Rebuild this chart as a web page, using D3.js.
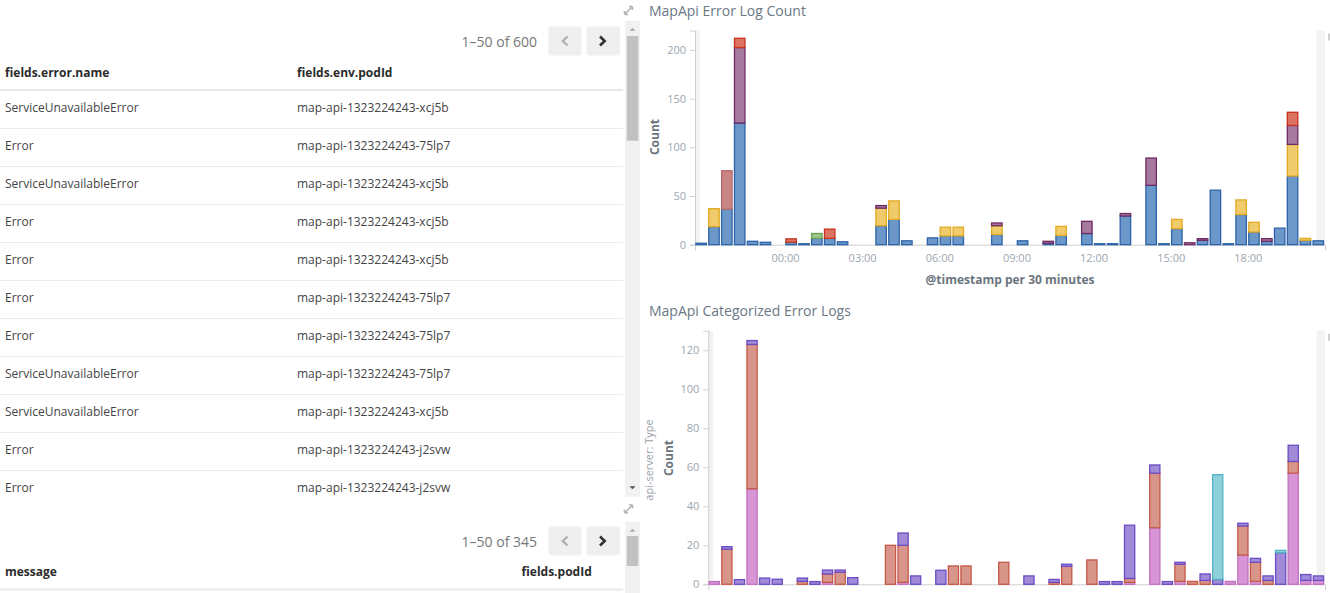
<!DOCTYPE html>
<html><head><meta charset="utf-8">
<script src="https://cdn.jsdelivr.net/npm/d3@7"></script>
<style>
html,body{margin:0;padding:0;background:#fff;overflow:hidden}
svg{display:block;font-family:"Open Sans",sans-serif}
</style></head><body>
<svg id="c" width="1330" height="593"></svg>
<script>
// ---------- DATA ----------
const timeBins = [
 "20:30","21:00","21:30","22:00","22:30","23:00","23:30",
 "00:00","00:30","01:00","01:30","02:00","02:30",
 "03:00","03:30","04:00","04:30","05:00","05:30",
 "06:00","06:30","07:00","07:30","08:00","08:30",
 "09:00","09:30","10:00","10:30","11:00","11:30",
 "12:00","12:30","13:00","13:30","14:00","14:30",
 "15:00","15:30","16:00","16:30","17:00","17:30",
 "18:00","18:30","19:00","19:30","20:00","20:30"];
const xTickLabels = ["00:00","03:00","06:00","09:00","12:00","15:00","18:00"];
const topYTicks = [0,50,100,150,200];
const bottomYTicks = [0,20,40,60,80,100,120];

// MapApi Error Log Count (stacked, bottom -> top)
const topBlue = [
 1.5,18.5,36.5,125,3.5,2.5,0,
 2.5,1,6.5,6.5,3,0,
 0,19.5,26,4,0,7,
 9,9,0,0,10.5,0,
 4,0,1.5,9.5,0,11.5,
 1,1,29.5,0,61,1,
 16.5,0,4.5,56,1,31,
 13,3.5,17,70.5,4.5,4];
const topGreen = [
 0,0,0,0,0,0,0,
 0,0,5,0,0,0,
 0,0,0,0,0,0,
 0,0,0,0,0,0,
 0,0,0,0,0,0,
 0,0,0,0,0,0,
 0,0,0,0,0,0,
 0,0,0,0,0,0];
const topYellow = [
 0,18.5,0,0,0,0,0,
 0,0,0,0,0,0,
 0,18,19,0,0,0,
 9,9,0,0,9,0,
 0,0,0,9.3,0,0,
 0,0,0,0,0,0,
 9.5,0,0,0,0,15,
 10,0,0,32.5,2,0];
const topDustyRed = [
 0,0,39.5,0,0,0,0,
 0,0,0,0,0,0,
 0,0,0,0,0,0,
 0,0,0,0,0,0,
 0,0,0,0,0,0,
 0,0,0,0,0,0,
 0,0,0,0,0,0,
 0,0,0,0,0,0];
const topMauve = [
 0,0,0,77.5,0,0,0,
 0,0,0,0,0,0,
 0,2.7,0,0,0,0,
 0,0,0,0,2.8,0,
 0,0,2,0,0,12.5,
 0,0,2.5,0,28,0,
 0,2,1.7,0,0,0,
 0,2.7,0,19.5,0,0];
const topRed = [
 0,0,0,9.5,0,0,0,
 3.5,0,0,9.5,0,0,
 0,0,0,0,0,0,
 0,0,0,0,0,0,
 0,0,0,0,0,0,
 0,0,0,0,0,0,
 0,0,0,0,0,0,
 0,0,0,13.5,0,0];

// MapApi Categorized Error Logs (stacked, bottom -> top)
const catPink = [
 1.4,0,0,49,0,0,0,
 0,0,1,0,0,0,
 0,0,1,0,0,0,
 0,0,0,0,0,0,
 0,0,0,0,0,0,
 0,0,1,0,29,0,
 1.5,0,0,0,1.5,15,
 1.5,0,0,57,2,2];
const catSalmon = [
 0,18,0,74,0,0,0,
 1.5,0,4.3,6.2,0,0,
 0,20,19,0,0,0,
 9.4,9.4,0,0,11.3,0,
 0,0,1,9.2,0,12.5,
 0,0,2,0,28,0,
 8.8,1.5,2,0,0,14.9,
 9.8,2,0,6,0,0];
const catPurple = [
 0,1.3,2.4,2,3.2,2.6,0,
 1.7,1.4,2,1.1,3.4,0,
 0,0,6.3,4.3,0,7.2,
 0,0,0,0,0,0,
 4.3,0,1.5,1.1,0,0,
 1.4,1.4,27.3,0,4.2,1.4,
 1,0,3.3,2.5,0,1.4,
 2,2.3,16.2,8.3,3,2.3];
const catTeal = [
 0,0,0,0,0,0,0,
 0,0,0,0,0,0,
 0,0,0,0,0,0,
 0,0,0,0,0,0,
 0,0,0,0,0,0,
 0,0,0,0,0,0,
 0,0,0,53.7,0,0,
 0,0,1.2,0,0,0];

// tables
const table1Columns = ["fields.error.name","fields.env.podId"];
const table1ErrorNames = ["ServiceUnavailableError","Error","ServiceUnavailableError","Error","Error","Error","Error","ServiceUnavailableError","ServiceUnavailableError","Error","Error"];
const table1PodIds = ["map-api-1323224243-xcj5b","map-api-1323224243-75lp7","map-api-1323224243-xcj5b","map-api-1323224243-xcj5b","map-api-1323224243-xcj5b","map-api-1323224243-75lp7","map-api-1323224243-75lp7","map-api-1323224243-75lp7","map-api-1323224243-xcj5b","map-api-1323224243-j2svw","map-api-1323224243-j2svw"];
const table1Paging = "1–50 of 600";
const table2Columns = ["message","fields.podId"];
const table2Paging = "1–50 of 345";

// ---------- DRAW ----------
const svg = d3.select("#c");
const binMs = 30*60*1000;
function parseBins(labels){
  let day=0, prev=-1;
  return labels.map(s=>{const [h,m]=s.split(":").map(Number); const mins=h*60+m; if(mins<prev) day++; prev=mins; return new Date(Date.UTC(2017,0,1+day,h,m));});
}
const binDates = parseBins(timeBins);
const domainStart = binDates[0];
const domainEnd = new Date(+binDates[binDates.length-1]+binMs);
const tickDates = xTickLabels.map(s=>{const [h,m]=s.split(":").map(Number); return new Date(Date.UTC(2017,0,2,h,m));});

const tickColor = "#9ca6b0", axisColor = "#cfcfcf";

function drawChart(cfg){
  const g = svg.append("g");
  const x = d3.scaleUtc().domain([domainStart,domainEnd]).range([cfg.x0,cfg.x1]);
  const y = d3.scaleLinear().domain([0,cfg.yMax]).range([cfg.y0,cfg.y1]);
  g.append("rect").attr("x",cfg.x0).attr("y",cfg.y1).attr("width",5).attr("height",cfg.y0-cfg.y1).attr("fill","#f3f3f3");
  g.append("rect").attr("x",cfg.x1-8.3).attr("y",cfg.y1).attr("width",8.3).attr("height",cfg.y0-cfg.y1).attr("fill","#f3f3f3");

  const ya = g.append("g").attr("transform",`translate(${cfg.x0},0)`)
    .call(d3.axisLeft(y).tickValues(cfg.yTicks).tickSizeInner(5).tickSizeOuter(5).tickPadding(4));
  const xAxis = d3.axisBottom(x).tickValues(cfg.showXLabels ? tickDates : []).tickFormat(d3.utcFormat("%H:%M"))
    .tickSizeInner(0).tickSizeOuter(6).tickPadding(10);
  const xa = g.append("g").attr("transform",`translate(0,${cfg.y0})`).call(xAxis);
  [ya,xa].forEach(a=>{
    a.attr("font-family",null).attr("font-size",null);
    a.selectAll("path,line").attr("stroke",axisColor);
    a.selectAll("text").attr("fill",tickColor).style("font-size","11px");
  });

  const rows = binDates.map((d,i)=>{const r={date:d}; cfg.series.forEach(s=>r[s.name]=s.values[i]); return r;});
  const stack = d3.stack().keys(cfg.series.map(s=>s.name))(rows);
  const bw = x(new Date(+domainStart+binMs)) - x(domainStart);
  stack.forEach((layer,li)=>{
    const s = cfg.series[li];
    g.append("g").selectAll("rect").data(layer.filter(d=>d[1]-d[0]>0)).join("rect")
      .attr("x",d=>x(d.data.date)+0.9).attr("width",bw-2.4)
      .attr("y",d=>y(d[1])).attr("height",d=>y(d[0])-y(d[1]))
      .attr("fill",s.fill).attr("stroke",s.stroke).attr("stroke-width",1.3);
  });

  g.append("text").attr("x",649).attr("y",cfg.titleY).attr("fill","#6b7886").style("font-size","14px").text(cfg.title);
  g.append("rect").attr("x",1328).attr("y",cfg.y1+3).attr("width",2).attr("height",7).attr("fill","#d0d0d0");
  return g;
}

const topChart = drawChart({
  x0:695, x1:1325, y0:244.7, y1:30.5, yMax:220, yTicks:topYTicks, showXLabels:true,
  title:"MapApi Error Log Count", titleY:16,
  series:[
    {name:"map-api-1323224243-xcj5b", values:topBlue, fill:"#6b98c9", stroke:"#2c63a9"},
    {name:"map-api-1323224243-gq7kt", values:topGreen, fill:"#9fc790", stroke:"#66a052"},
    {name:"map-api-1323224243-75lp7", values:topYellow, fill:"#f0cb6b", stroke:"#e3aa22"},
    {name:"map-api-1323224243-5b0xn", values:topDustyRed, fill:"#c98484", stroke:"#b86a6a"},
    {name:"map-api-1323224243-j2svw", values:topMauve, fill:"#a67a9f", stroke:"#6f2a66"},
    {name:"map-api-1323224243-r8m2d", values:topRed, fill:"#db7262", stroke:"#c8321e"}
  ]});
topChart.append("text").attr("transform","translate(659,137) rotate(-90)").attr("text-anchor","middle")
  .attr("fill","#6c757d").style("font-size","12px").style("font-weight","bold").text("Count");
topChart.append("text").attr("x",1010).attr("y",283.5).attr("text-anchor","middle")
  .attr("fill","#6c757d").style("font-size","12px").style("font-weight","bold").text("@timestamp per 30 minutes");

const bottomChart = drawChart({
  x0:708.3, x1:1325, y0:584.3, y1:330.8, yMax:130, yTicks:bottomYTicks, showXLabels:false,
  title:"MapApi Categorized Error Logs", titleY:316,
  series:[
    {name:"ServiceUnavailable", values:catPink, fill:"#d895d6", stroke:"#c271c0"},
    {name:"Timeout", values:catSalmon, fill:"#d8968b", stroke:"#c65848"},
    {name:"Internal", values:catPurple, fill:"#a18bd9", stroke:"#6a4cc4"},
    {name:"NotFound", values:catTeal, fill:"#8fd0da", stroke:"#50b4c3"}
  ]});
bottomChart.append("text").attr("transform","translate(653,460) rotate(-90)").attr("text-anchor","middle")
  .attr("fill","#9ba1a8").style("font-size","11px").text("api-server: Type");
bottomChart.append("text").attr("transform","translate(673,458) rotate(-90)").attr("text-anchor","middle")
  .attr("fill","#6c757d").style("font-size","12px").style("font-weight","bold").text("Count");

// ---------- TABLES ----------
const defs = svg.append("defs");
defs.append("clipPath").attr("id","clip1").append("rect").attr("x",0).attr("y",18).attr("width",624).attr("height",479);
defs.append("clipPath").attr("id","clip2").append("rect").attr("x",0).attr("y",500).attr("width",624).attr("height",93);

function pager(g, label, cy){
  g.append("text").attr("x",537).attr("y",cy+6).attr("text-anchor","end").attr("fill","#777").style("font-size","14px").text(label);
  g.append("rect").attr("x",548.5).attr("y",cy-14.5).attr("width",33).attr("height",29).attr("rx",3).attr("fill","#efefef");
  g.append("rect").attr("x",586.5).attr("y",cy-14.5).attr("width",33.5).attr("height",29).attr("rx",3).attr("fill","#efefef");
  g.append("path").attr("d",`M567.5,${cy-4.5}L562.8,${cy}L567.5,${cy+4.5}`).attr("fill","none").attr("stroke","#b0b0b0").attr("stroke-width",2.4);
  g.append("path").attr("d",`M600,${cy-4.5}L604.7,${cy}L600,${cy+4.5}`).attr("fill","none").attr("stroke","#333").attr("stroke-width",2.6);
}
function resizeIcon(g, x, y){
  g.append("path").attr("d",`M${x+1},${y+7} L${x+9},${y-1} M${x+1},${y+7} l0,-3.5 M${x+1},${y+7} l3.5,0 M${x+9},${y-1} l-3.5,0 M${x+9},${y-1} l0,3.5`)
    .attr("fill","none").attr("stroke","#b5b5b5").attr("stroke-width",1.6);
}
function scrollbar(g, y0, y1, thumb0, thumb1, downArrow){
  g.append("rect").attr("x",625).attr("y",y0).attr("width",15).attr("height",y1-y0).attr("fill","#f1f1f1");
  g.append("rect").attr("x",626.8).attr("y",thumb0).attr("width",11.5).attr("height",thumb1-thumb0).attr("fill","#c1c1c1");
  g.append("path").attr("d",`M629.5,${y0+10}L632.5,${y0+7}L635.5,${y0+10}Z`).attr("fill","#a8a8a8");
  if(downArrow) g.append("path").attr("d",`M629.5,${y1-10.5}L632.5,${y1-7.5}L635.5,${y1-10.5}Z`).attr("fill","#505050");
}

const t1 = svg.append("g");
resizeIcon(t1, 623.5, 7.5);
pager(t1, table1Paging, 41);
scrollbar(t1, 20.7, 496.7, 36, 140.7, true);
const t1c = t1.append("g").attr("clip-path","url(#clip1)");
t1c.append("text").attr("x",5).attr("y",77).attr("fill","#2b2b2b").style("font-size","12px").style("font-weight","bold").text(table1Columns[0]);
t1c.append("text").attr("x",297).attr("y",77).attr("fill","#2b2b2b").style("font-size","12px").style("font-weight","bold").text(table1Columns[1]);
t1c.append("rect").attr("x",0).attr("y",89).attr("width",623).attr("height",2).attr("fill","#e8e8e8");
table1ErrorNames.forEach((n,i)=>{
  const base = 112 + 38*i;
  t1c.append("text").attr("x",5).attr("y",base).attr("fill","#444").style("font-size","12px").text(n);
  t1c.append("text").attr("x",297).attr("y",base).attr("fill","#444").style("font-size","12px").text(table1PodIds[i]);
  t1c.append("rect").attr("x",0).attr("y",base+16).attr("width",623).attr("height",1).attr("fill","#ececec");
});

const t2 = svg.append("g");
resizeIcon(t2, 623.5, 506);
pager(t2, table2Paging, 541);
scrollbar(t2, 521.7, 600, 536, 566, false);
const t2c = t2.append("g").attr("clip-path","url(#clip2)");
t2c.append("text").attr("x",5).attr("y",576).attr("fill","#2b2b2b").style("font-size","12px").style("font-weight","bold").text(table2Columns[0]);
t2c.append("text").attr("x",521.5).attr("y",576).attr("fill","#2b2b2b").style("font-size","12px").style("font-weight","bold").text(table2Columns[1]);
t2c.append("rect").attr("x",0).attr("y",588.5).attr("width",623).attr("height",2).attr("fill","#e8e8e8");
</script>
</body></html>
